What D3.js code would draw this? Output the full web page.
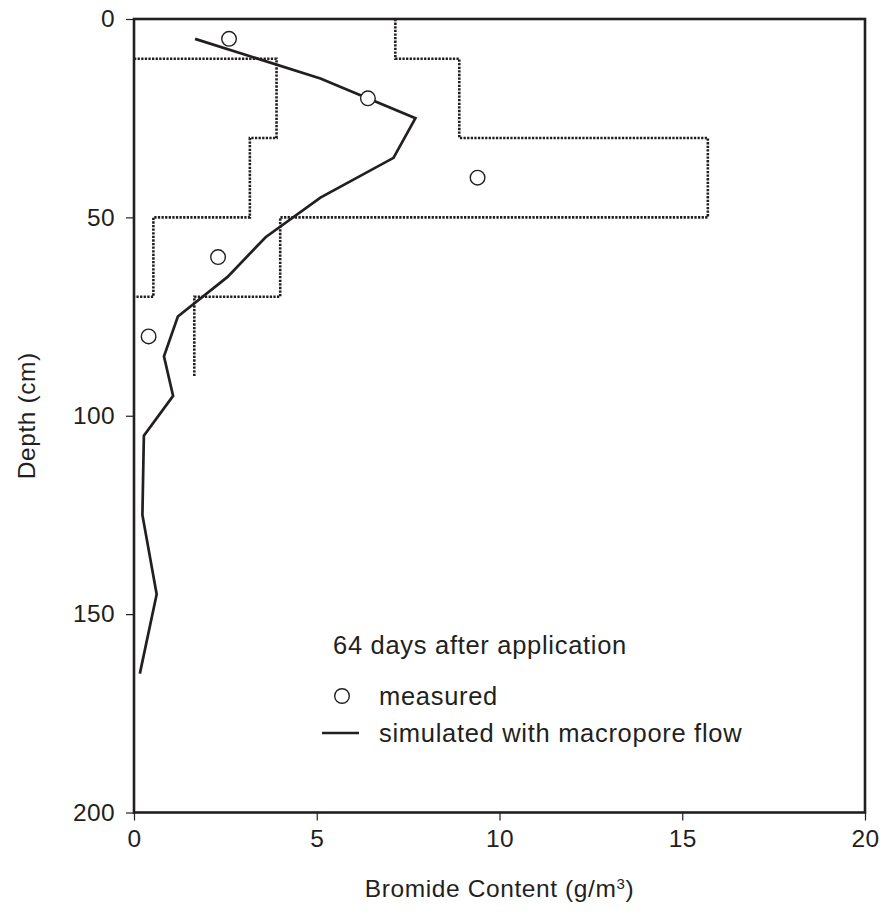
<!DOCTYPE html>
<html>
<head>
<meta charset="utf-8">
<script src="https://cdn.jsdelivr.net/npm/d3@7"></script>
<style>
  html, body { margin: 0; padding: 0; background: #fff; }
  svg { display: block; font-family: "Liberation Sans", Arial, Helvetica, sans-serif; }
</style>
</head>
<body>
<svg id="chart" width="883" height="915"></svg>
<script>
// Bromide profile 64 days after application
const xTicks = [0, 5, 10, 15, 20];
const yTicks = [0, 50, 100, 150, 200];

// measured bromide content (g/m3) at sampling depth (cm)
const measuredConc  = [2.6, 6.4, 9.4, 2.3, 0.4];
const measuredDepth = [5, 20, 40, 60, 80];

// simulated profile with macropore flow
const simConc  = [1.67, 5.1, 7.7, 7.1, 5.1, 3.6, 2.56, 1.2, 0.82, 1.07, 0.27, 0.23, 0.62, 0.16];
const simDepth = [5, 15, 25, 35, 45, 55, 65, 75, 85, 95, 105, 125, 145, 165];

// lower bound of measured range (step outline)
const lowConc  = [0, 3.9, 3.9, 3.17, 3.17, 0.53, 0.53, 0];
const lowDepth = [10, 10, 30, 30, 50, 50, 70, 70];

// upper bound of measured range (step outline)
const highConc  = [7.15, 7.15, 8.9, 8.9, 15.7, 15.7, 4.0, 4.0, 1.65, 1.65];
const highDepth = [0, 10, 10, 30, 30, 50, 50, 70, 70, 90];

const legendTitle = "64 days after application";
const legendLabels = ["measured", "simulated with macropore flow"];

const ink = "#231f20";
const svg = d3.select("#chart");
const plotLeft = 134, plotRight = 865, plotTop = 19, plotBottom = 812.5;

const x = d3.scaleLinear().domain([0, 20]).range([plotLeft, plotRight]);
const y = d3.scaleLinear().domain([0, 200]).range([plotTop, plotBottom]);

// axes
const xAxis = svg.append("g")
  .attr("transform", `translate(0,${plotBottom})`)
  .call(d3.axisBottom(x).tickValues(xTicks).tickSize(8).tickPadding(9).tickFormat(d3.format("d")));
const yAxis = svg.append("g")
  .attr("transform", `translate(${plotLeft},0)`)
  .call(d3.axisLeft(y).tickValues(yTicks).tickSize(8).tickPadding(11).tickFormat(d3.format("d")));
[xAxis, yAxis].forEach(g => {
  g.select(".domain").remove();
  g.selectAll(".tick line").attr("stroke", ink).attr("stroke-width", 1.2);
  g.selectAll(".tick text").attr("fill", ink).style("font-size", "24.5px")
    .style("font-family", "'Liberation Sans', Arial, sans-serif").style("letter-spacing", "0.4px");
});

// frame
svg.append("rect")
  .attr("x", plotLeft).attr("y", plotTop)
  .attr("width", plotRight - plotLeft).attr("height", plotBottom - plotTop)
  .attr("fill", "none").attr("stroke", ink).attr("stroke-width", 2.6);

const line = d3.line().x(d => x(d[0])).y(d => y(d[1]));

// dotted range outlines
[[lowConc, lowDepth], [highConc, highDepth]].forEach(([c, dp]) => {
  svg.append("path")
    .datum(c.map((v, i) => [v, dp[i]]))
    .attr("d", line)
    .attr("fill", "none").attr("stroke", ink)
    .attr("stroke-width", 2.6).attr("stroke-dasharray", "2.3,1.3");
});

// simulated line
svg.append("path")
  .datum(simConc.map((v, i) => [v, simDepth[i]]))
  .attr("d", line)
  .attr("fill", "none").attr("stroke", ink)
  .attr("stroke-width", 2.7).attr("stroke-linejoin", "miter");

// measured points
svg.selectAll("circle.meas")
  .data(measuredConc.map((v, i) => [v, measuredDepth[i]]))
  .join("circle").attr("class", "meas")
  .attr("cx", d => x(d[0])).attr("cy", d => y(d[1])).attr("r", 7.3)
  .attr("fill", "#fff").attr("stroke", ink).attr("stroke-width", 1.4);

// legend
const lg = svg.append("g").attr("fill", ink).style("font-size", "25.5px").style("letter-spacing", "0.7px");
lg.append("text").attr("x", 333).attr("y", 654).text(legendTitle);
lg.append("circle").attr("cx", 342).attr("cy", 696).attr("r", 7.3)
  .attr("fill", "#fff").attr("stroke", ink).attr("stroke-width", 1.4);
lg.append("text").attr("x", 379).attr("y", 705).text(legendLabels[0]);
lg.append("line").attr("x1", 322).attr("x2", 359).attr("y1", 733).attr("y2", 733)
  .attr("stroke", ink).attr("stroke-width", 2.7);
lg.append("text").attr("x", 379).attr("y", 742).text(legendLabels[1]);

// axis titles
const xt = svg.append("text")
  .attr("x", (plotLeft + plotRight) / 2).attr("y", 897)
  .attr("text-anchor", "middle").attr("fill", ink)
  .style("font-size", "24.5px").style("letter-spacing", "0.6px");
xt.append("tspan").text("Bromide Content (g/m");
xt.append("tspan").attr("dy", -8).style("font-size", "15px").text("3");
xt.append("tspan").attr("dy", 8).text(")");

svg.append("text")
  .attr("transform", `translate(35,${(plotTop + plotBottom) / 2}) rotate(-90)`)
  .attr("text-anchor", "middle").attr("fill", ink)
  .style("font-size", "24.5px").style("letter-spacing", "0.6px")
  .text("Depth (cm)");
</script>
</body>
</html>
